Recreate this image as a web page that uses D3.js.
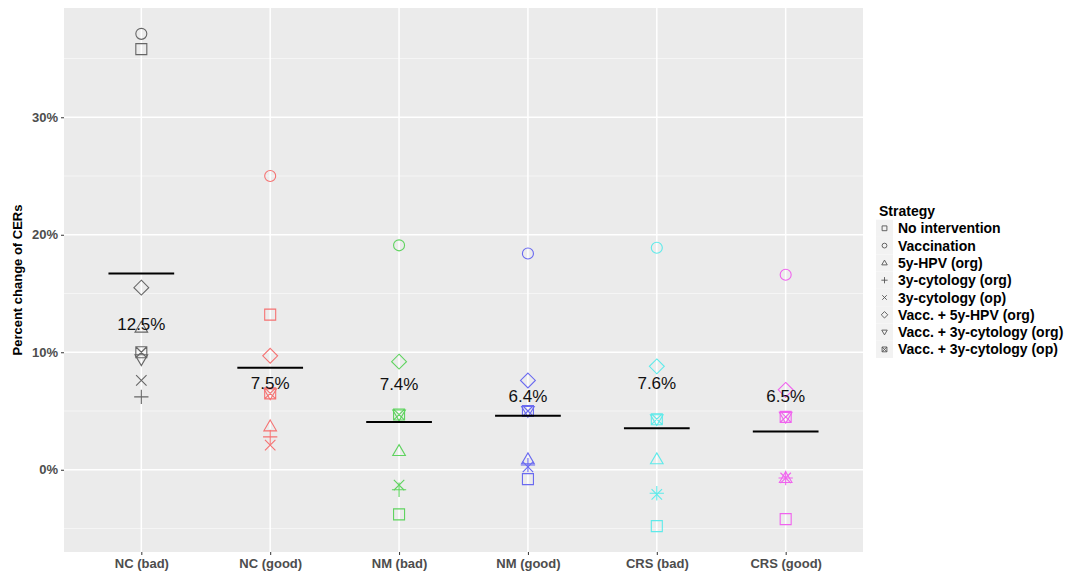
<!doctype html>
<html>
<head>
<meta charset="utf-8">
<title>Percent change of CERs</title>
<script src="https://cdnjs.cloudflare.com/ajax/libs/d3/7.8.5/d3.min.js"></script>
<style>
  body { margin: 0; background: #fff; font-family: "Liberation Sans", Arial, sans-serif; }
  svg text { font-family: "Liberation Sans", Arial, sans-serif; }
</style>
</head>
<body>
<div id="chart"></div>
<script>
// settings (x axis categories) and their colours
const settings = ['NC (bad)', 'NC (good)', 'NM (bad)', 'NM (good)', 'CRS (bad)', 'CRS (good)'];
const settingColors = ['#666666', '#f57272', '#5fd35f', '#6a6af0', '#5eeaea', '#f063ee'];

// strategies (legend order), shape per strategy
const strategies = ['No intervention', 'Vaccination', '5y-HPV (org)', '3y-cytology (org)',
  '3y-cytology (op)', 'Vacc. + 5y-HPV (org)', 'Vacc. + 3y-cytology (org)', 'Vacc. + 3y-cytology (op)'];
const shapes = ['square', 'circle', 'triangle', 'plus', 'cross', 'diamond', 'triangleDown', 'squareX'];

// percent change per setting, one array per strategy (same order as settings)
const noIntervention = [35.8, 13.2, -3.8, -0.8, -4.8, -4.2];
const vaccination    = [37.1, 25.0, 19.1, 18.4, 18.9, 16.6];
const hpv5Org        = [12.1, 3.7, 1.6, 0.9, 0.9, -0.7];
const cyto3Org       = [6.2, 2.8, -1.7, 0.4, -2.0, -0.7];
const cyto3Op        = [7.6, 2.1, -1.3, 0.25, -2.1, -0.7];
const vaccHpv5Org    = [15.5, 9.7, 9.2, 7.6, 8.8, 6.8];
const vaccCyto3Org   = [9.4, 6.5, 4.7, 5.0, 4.3, 4.5];
const vaccCyto3Op    = [10.0, 6.5, 4.7, 5.0, 4.3, 4.5];
const seriesValues = [noIntervention, vaccination, hpv5Org, cyto3Org, cyto3Op, vaccHpv5Org, vaccCyto3Org, vaccCyto3Op];

// annotation per setting: label text and the value it sits at
const labelText = ['12.5%', '7.5%', '7.4%', '6.4%', '7.6%', '6.5%'];
const labelValues = [12.5, 7.5, 7.4, 6.4, 7.5, 6.4];

const yTicks = [0, 10, 20, 30];
const yMinor = [-5, 5, 15, 25, 35];

const W = 1065, H = 571;
const panel = { left: 64, right: 863, top: 8, bottom: 552 };

const svg = d3.select('#chart').append('svg').attr('width', W).attr('height', H);

const x = d3.scalePoint().domain(settings)
  .range([panel.left, panel.right]).padding(0.6);
const step = x.step();
const y = d3.scaleLinear().domain([-7.0, 39.3]).range([panel.bottom, panel.top]);

// panel background
svg.append('rect')
  .attr('x', panel.left).attr('y', panel.top)
  .attr('width', panel.right - panel.left).attr('height', panel.bottom - panel.top)
  .attr('fill', '#ebebeb');

// grid
svg.append('g').selectAll('line').data(yMinor).join('line')
  .attr('x1', panel.left).attr('x2', panel.right)
  .attr('y1', d => y(d)).attr('y2', d => y(d))
  .attr('stroke', '#f7f7f7').attr('stroke-width', 0.8);
svg.append('g').selectAll('line').data(yTicks).join('line')
  .attr('x1', panel.left).attr('x2', panel.right)
  .attr('y1', d => y(d)).attr('y2', d => y(d))
  .attr('stroke', '#fff').attr('stroke-width', 1.5);
svg.append('g').selectAll('line').data(settings).join('line')
  .attr('x1', d => x(d)).attr('x2', d => x(d))
  .attr('y1', panel.top).attr('y2', panel.bottom)
  .attr('stroke', '#fff').attr('stroke-width', 1.5);

// axes
const yAxis = svg.append('g')
  .attr('transform', `translate(${panel.left},0)`)
  .call(d3.axisLeft(y).tickValues(yTicks).tickSize(3).tickFormat(d => d + '%'));
yAxis.select('.domain').remove();
yAxis.selectAll('line').attr('stroke', '#333');
yAxis.selectAll('text').attr('fill', '#4d4d4d').attr('font-size', 13).attr('font-weight', 'bold');

const xAxis = svg.append('g')
  .attr('transform', `translate(0,${panel.bottom})`)
  .call(d3.axisBottom(x).tickSize(3).tickPadding(4));
xAxis.select('.domain').remove();
xAxis.selectAll('line').attr('stroke', '#333');
xAxis.selectAll('text').attr('fill', '#4d4d4d').attr('font-size', 13).attr('font-weight', 'bold');

svg.append('text')
  .attr('transform', `translate(22,${(panel.top + panel.bottom) / 2}) rotate(-90)`)
  .attr('text-anchor', 'middle')
  .attr('font-size', 13).attr('font-weight', 'bold').attr('fill', '#000')
  .text('Percent change of CERs');

// shape paths centred at 0,0, r = half size
function shapePath(kind, r) {
  const p = d3.path();
  if (kind === 'square') { p.rect(-r, -r, 2 * r, 2 * r); }
  else if (kind === 'circle') { p.arc(0, 0, r, 0, 2 * Math.PI); p.closePath(); }
  else if (kind === 'triangle') {
    const h = r * 1.15;
    p.moveTo(0, -h); p.lineTo(h, h * 0.72); p.lineTo(-h, h * 0.72); p.closePath();
  }
  else if (kind === 'triangleDown') {
    const h = r * 1.15;
    p.moveTo(0, h); p.lineTo(h, -h * 0.72); p.lineTo(-h, -h * 0.72); p.closePath();
  }
  else if (kind === 'plus') {
    const a = r * 1.3;
    p.moveTo(-a, 0); p.lineTo(a, 0); p.moveTo(0, -a); p.lineTo(0, a);
  }
  else if (kind === 'cross') {
    const a = r * 0.95;
    p.moveTo(-a, -a); p.lineTo(a, a); p.moveTo(-a, a); p.lineTo(a, -a);
  }
  else if (kind === 'diamond') {
    const a = r * 1.35;
    p.moveTo(0, -a); p.lineTo(a, 0); p.lineTo(0, a); p.lineTo(-a, 0); p.closePath();
  }
  else if (kind === 'squareX') {
    p.rect(-r, -r, 2 * r, 2 * r);
    p.moveTo(-r, -r); p.lineTo(r, r); p.moveTo(-r, r); p.lineTo(r, -r);
  }
  return p.toString();
}

// points
const points = [];
strategies.forEach((s, si) => {
  settings.forEach((c, ci) => {
    points.push({ setting: c, ci, shape: shapes[si], value: seriesValues[si][ci] });
  });
});
svg.append('g').selectAll('path').data(points).join('path')
  .attr('transform', d => `translate(${x(d.setting)},${y(d.value)})`)
  .attr('d', d => shapePath(d.shape, 5.5))
  .attr('fill', 'none')
  .attr('stroke', d => settingColors[d.ci])
  .attr('stroke-width', 1.1);

// mean line per setting
const means = settings.map((c, ci) => d3.mean(seriesValues, arr => arr[ci]));
svg.append('g').selectAll('line').data(settings).join('line')
  .attr('x1', d => x(d) - step * 0.255).attr('x2', d => x(d) + step * 0.255)
  .attr('y1', (d, i) => y(means[i])).attr('y2', (d, i) => y(means[i]))
  .attr('stroke', '#000').attr('stroke-width', 2);

// annotations
svg.append('g').selectAll('text').data(settings).join('text')
  .attr('x', d => x(d))
  .attr('y', (d, i) => y(labelValues[i]) + 2)
  .attr('text-anchor', 'middle').attr('dominant-baseline', 'central')
  .attr('font-size', 17).attr('fill', '#111')
  .text((d, i) => labelText[i]);

// legend
const lg = svg.append('g').attr('transform', 'translate(876,211)');
lg.append('text').attr('x', 3).attr('y', 0).attr('dominant-baseline', 'central')
  .attr('font-size', 14).attr('font-weight', 'bold').attr('fill', '#000').text('Strategy');
const rows = lg.selectAll('g.row').data(strategies).join('g')
  .attr('class', 'row')
  .attr('transform', (d, i) => `translate(0,${17.3 * (i + 1)})`);
rows.append('rect').attr('x', 0).attr('y', -8.6).attr('width', 17).attr('height', 17.2)
  .attr('fill', '#f2f2f2');
rows.append('path')
  .attr('transform', 'translate(8.5,0)')
  .attr('d', (d, i) => shapePath(shapes[i], 2.4))
  .attr('fill', 'none').attr('stroke', '#555').attr('stroke-width', 0.9);
rows.append('text').attr('x', 22).attr('y', 0).attr('dominant-baseline', 'central')
  .attr('font-size', 14).attr('font-weight', 'bold').attr('fill', '#000')
  .text(d => d);
</script>
</body>
</html>
